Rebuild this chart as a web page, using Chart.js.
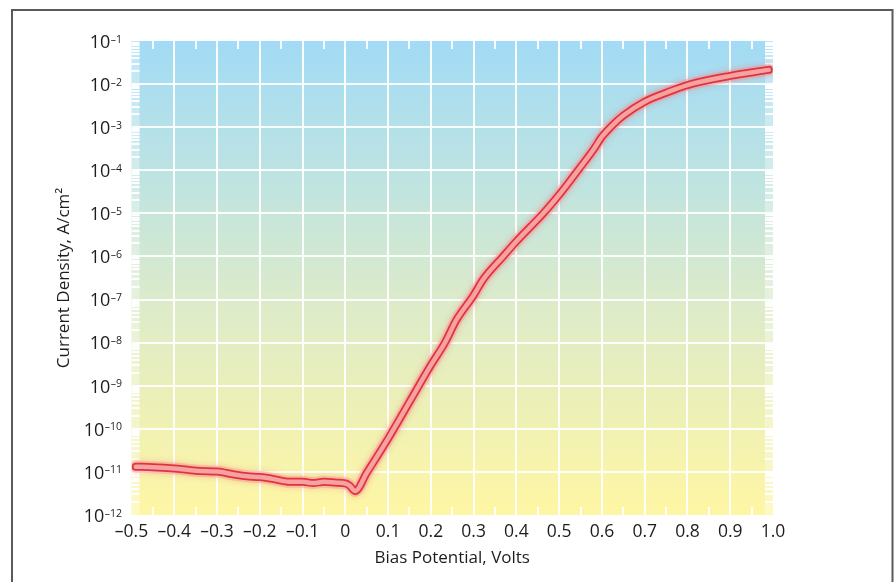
<!DOCTYPE html>
<html>
<head>
<meta charset="utf-8">
<script src="https://cdn.jsdelivr.net/npm/chart.js@4.4.1/dist/chart.umd.min.js"></script>
<style>
  html, body { margin: 0; padding: 0; background: #ffffff; }
  #wrap { width: 894px; height: 582px; }
</style>
</head>
<body>
<div id="wrap"><canvas id="c" width="894" height="582"></canvas></div>
<script>
// Bias potential (V) and measured current density (A/cm²)
const voltages = [
  -0.49, -0.45, -0.40, -0.37, -0.34, -0.30, -0.26, -0.23, -0.20, -0.17,
  -0.13, -0.10, -0.075, -0.05, -0.02, 0.00, 0.01, 0.023, 0.05, 0.10,
  0.15, 0.20, 0.233, 0.26, 0.30, 0.322, 0.369, 0.40, 0.463, 0.50,
  0.525, 0.55, 0.58, 0.60, 0.625, 0.65, 0.70, 0.75, 0.80, 0.90, 0.99
];
const currents = [
  1.32e-11, 1.29e-11, 1.20e-11, 1.12e-11, 1.05e-11, 1.02e-11, 8.7e-12, 7.9e-12, 7.6e-12, 6.9e-12,
  5.9e-12, 5.9e-12, 5.5e-12, 5.9e-12, 5.6e-12, 5.4e-12, 4.8e-12, 3.6e-12, 9.5e-12, 5.9e-11,
  4.2e-10, 3.0e-9, 1.0e-8, 3.4e-8, 1.26e-7, 2.9e-7, 1.0e-6, 2.24e-6, 1.0e-5, 2.7e-5,
  5.6e-5, 1.2e-4, 3.0e-4, 6.0e-4, 1.12e-3, 1.86e-3, 3.9e-3, 6.3e-3, 9.5e-3, 1.55e-2, 2.14e-2
];

// Axis ticks
const xTickValues = [-0.5, -0.4, -0.3, -0.2, -0.1, 0, 0.1, 0.2, 0.3, 0.4, 0.5, 0.6, 0.7, 0.8, 0.9, 1.0];
const xTickLabels = ['\u20130.5', '\u20130.4', '\u20130.3', '\u20130.2', '\u20130.1', '0',
                     '0.1', '0.2', '0.3', '0.4', '0.5', '0.6', '0.7', '0.8', '0.9', '1.0'];
const xMinorValues = [-0.45, -0.35, -0.25, -0.15, -0.05, 0.05, 0.15, 0.25, 0.35, 0.45, 0.55, 0.65, 0.75, 0.85, 0.95];
const yExponents = [-1, -2, -3, -4, -5, -6, -7, -8, -9, -10, -11, -12];
const yMinorMantissas = [2, 3, 4, 5, 6, 7, 8, 9];

const FONT = '"Open Sans", "Noto Sans", sans-serif';
const TEXT = '#1f1c1d';
const GRID = 'rgba(255,255,255,0.92)';

const points = voltages.map((v, i) => ({ x: v, y: currents[i] }));

// Frame, gradient plot background, edge ticks and decade labels
const decor = {
  id: 'decor',
  beforeDraw(chart) {
    const { ctx, chartArea: a } = chart;
    ctx.save();
    ctx.strokeStyle = '#5a5a5a';
    ctx.lineWidth = 2;
    ctx.strokeRect(12, 10, 880.5, 700);
    const g = ctx.createLinearGradient(0, a.top, 0, a.bottom);
    g.addColorStop(0.00, '#a2dbf5');
    g.addColorStop(0.28, '#bde3e2');
    g.addColorStop(0.55, '#dcebca');
    g.addColorStop(0.80, '#eff1b4');
    g.addColorStop(1.00, '#fff6a4');
    ctx.fillStyle = g;
    ctx.fillRect(a.left, a.top, a.right - a.left, a.bottom - a.top);
    ctx.restore();
  },
  beforeDatasetsDraw(chart) {
    const { ctx, chartArea: a, scales } = chart;
    const ys = scales.y, xs = scales.x;
    const len = 8;
    ctx.save();
    // light strips along the side edges
    ctx.fillStyle = 'rgba(255,255,255,0.32)';
    ctx.fillRect(a.left, a.top, len, a.bottom - a.top);
    ctx.fillRect(a.right - len, a.top, len, a.bottom - a.top);
    ctx.fillStyle = 'rgba(255,255,255,0.95)';
    // minor log ticks on left and right
    yExponents.forEach(e => {
      if (e === -1) return;
      yMinorMantissas.forEach(m => {
        const y = Math.round(ys.getPixelForValue(m * Math.pow(10, e)));
        ctx.fillRect(a.left, y - 1, len, 2);
        ctx.fillRect(a.right - len, y - 1, len, 2);
      });
    });
    // minor voltage ticks on top and bottom
    xMinorValues.forEach(v => {
      const x = Math.round(xs.getPixelForValue(v));
      ctx.fillRect(x - 1, a.top, 2, len);
      ctx.fillRect(x - 1, a.bottom - len, 2, len);
    });
    ctx.restore();
  },
  afterDraw(chart) {
    const { ctx, scales } = chart;
    const ys = scales.y;
    const right = 122;
    ctx.save();
    ctx.fillStyle = TEXT;
    ctx.textBaseline = 'alphabetic';
    ctx.textAlign = 'left';
    yExponents.forEach(e => {
      const y = ys.getPixelForValue(Math.pow(10, e));
      const sup = '\u2013' + String(-e);
      ctx.font = '10.5px ' + FONT;
      const ws = ctx.measureText(sup).width;
      ctx.font = '18px ' + FONT;
      const wb = ctx.measureText('10').width;
      const x0 = right - ws - wb - 0.5;
      ctx.fillText('10', x0, y + 6.8);
      ctx.font = '10.5px ' + FONT;
      ctx.fillText(sup, x0 + wb + 0.5, y + 1.5);
    });
    ctx.restore();
  }
};

// Glow under the curve
const glow = {
  id: 'glow',
  beforeDatasetDraw(chart, args) {
    if (args.index === 0) {
      chart.ctx.save();
      chart.ctx.shadowColor = 'rgba(240,90,100,0.55)';
      chart.ctx.shadowBlur = 6;
    }
  },
  afterDatasetDraw(chart, args) {
    if (args.index === 0) chart.ctx.restore();
  }
};

const lineCommon = {
  data: points,
  pointRadius: 0,
  cubicInterpolationMode: 'monotone',
  fill: false,
  borderCapStyle: 'round',
  borderJoinStyle: 'round'
};

new Chart(document.getElementById('c'), {
  type: 'line',
  data: {
    datasets: [
      Object.assign({}, lineCommon, { label: 'halo', borderColor: 'rgba(244,150,155,0.45)', borderWidth: 12, order: 3 }),
      Object.assign({}, lineCommon, { label: 'J', borderColor: '#e3323b', borderWidth: 8, order: 2 }),
      Object.assign({}, lineCommon, { label: 'core', borderColor: '#f4a2a2', borderWidth: 4.5, order: 1 })
    ]
  },
  options: {
    responsive: false,
    animation: false,
    devicePixelRatio: 1,
    layout: { padding: { left: 0, top: 41, right: 121, bottom: 0 } },
    plugins: { legend: { display: false }, tooltip: { enabled: false } },
    scales: {
      x: {
        type: 'linear',
        min: -0.5,
        max: 1.0,
        afterBuildTicks: s => { s.ticks = xTickValues.map(v => ({ value: v })); },
        afterFit: s => { s.height = 67; },
        ticks: {
          autoSkip: false,
          maxRotation: 0,
          padding: 7,
          color: TEXT,
          font: { family: FONT, size: 17.5 },
          callback: (v, i) => xTickLabels[i]
        },
        grid: {
          drawTicks: false,
          lineWidth: 2,
          color: c => (c.index === 0 || c.index === xTickValues.length - 1) ? 'rgba(0,0,0,0)' : GRID
        },
        border: { display: false },
        title: {
          display: true,
          text: 'Bias Potential, Volts',
          color: TEXT,
          font: { family: FONT, size: 17 },
          padding: { top: 0, bottom: 14 }
        }
      },
      y: {
        type: 'logarithmic',
        min: 1e-12,
        max: 1e-1,
        afterBuildTicks: s => { s.ticks = yExponents.map(e => ({ value: Math.pow(10, e) })); },
        afterFit: s => { s.width = 131.5; },
        ticks: { display: false },
        grid: {
          drawTicks: false,
          lineWidth: 2,
          color: c => (c.index === 0 || c.index === yExponents.length - 1) ? 'rgba(0,0,0,0)' : GRID
        },
        border: { display: false },
        title: {
          display: true,
          text: 'Current Density, A/cm\u00b2',
          color: TEXT,
          font: { family: FONT, size: 17 },
          padding: { top: 54, bottom: 0 }
        }
      }
    }
  },
  plugins: [decor, glow]
});
</script>
</body>
</html>
